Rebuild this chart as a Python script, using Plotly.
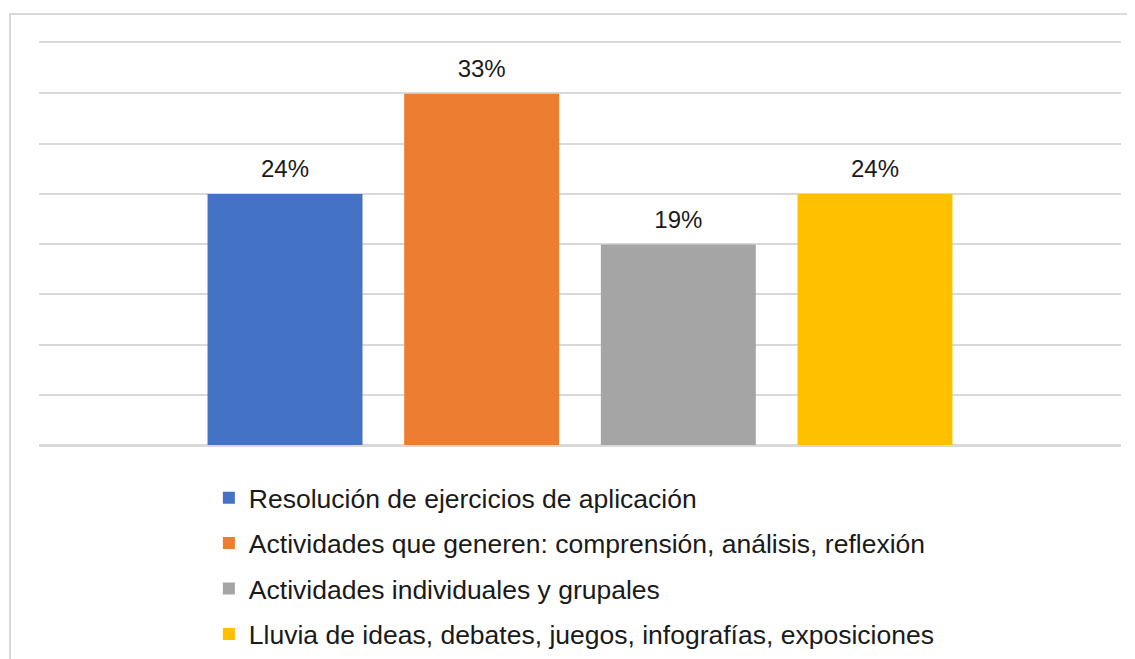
import plotly.graph_objects as go

# Bar colours (Office palette)
COLORS = ["#4472C4", "#ED7D31", "#A5A5A5", "#FFC000"]
COLOR_GRID = "#D9D9D9"
FONT = "Arial, Liberation Sans"

series_names = [
    "Resolución de ejercicios de aplicación",
    "Actividades que generen: comprensión, análisis, reflexión",
    "Actividades individuales y grupales",
    "Lluvia de ideas, debates, juegos, infografías, exposiciones",
]
values = [0.238, 0.333, 0.190, 0.238]
labels = ["24%", "33%", "19%", "24%"]
category = [""]

fig = go.Figure()
for i, name in enumerate(series_names):
    fig.add_trace(go.Bar(
        x=category, y=[values[i]], name=name,
        marker=dict(color=COLORS[i], line=dict(width=0)),
        legendgroup=str(i)))

# data labels, grouped like the bars so they sit above each one
for i, name in enumerate(series_names):
    fig.add_trace(go.Scatter(
        x=category, y=[values[i]], mode="markers+text",
        marker=dict(size=16, opacity=0), text=[labels[i]], textposition="top center",
        textfont=dict(family=FONT, size=24, color="#1a1a1a"),
        cliponaxis=False, showlegend=False, hoverinfo="skip"))

# the page body has an 8px margin, so the figure is 8px smaller than the window
fig.update_layout(
    width=1127, height=651, template="plotly_white",
    paper_bgcolor="white", plot_bgcolor="white",
    margin=dict(l=31, r=14, t=35, b=214, autoexpand=False),
    barmode="group", bargap=0.273, bargroupgap=0.212,
    scattermode="group", scattergap=0.273,
    font=dict(family=FONT, size=24, color="#1a1a1a"),
    showlegend=True,
    legend=dict(orientation="v", x=0.157, xanchor="left", y=-0.072, yanchor="top",
                font=dict(size=26.5), tracegroupgap=8, itemclick=False),
    shapes=[dict(type="rect", xref="paper", yref="paper",
                 x0=-0.0268, x1=1.2, y0=-0.8, y1=1.0721,
                 line=dict(color=COLOR_GRID, width=2), fillcolor="rgba(0,0,0,0)", layer="below")],
)

# x axis line mirrored to the top gives the top gridline
fig.update_xaxes(showticklabels=False, showgrid=False, zeroline=False,
                 showline=True, mirror=True, linecolor=COLOR_GRID, linewidth=1.5)
fig.update_yaxes(range=[0, 0.3811], tick0=0, dtick=0.047625, showticklabels=False,
                 showgrid=True, gridcolor=COLOR_GRID, gridwidth=1.5,
                 zeroline=True, zerolinecolor=COLOR_GRID, zerolinewidth=1.5, showline=False)

fig.write_html("out.html")
